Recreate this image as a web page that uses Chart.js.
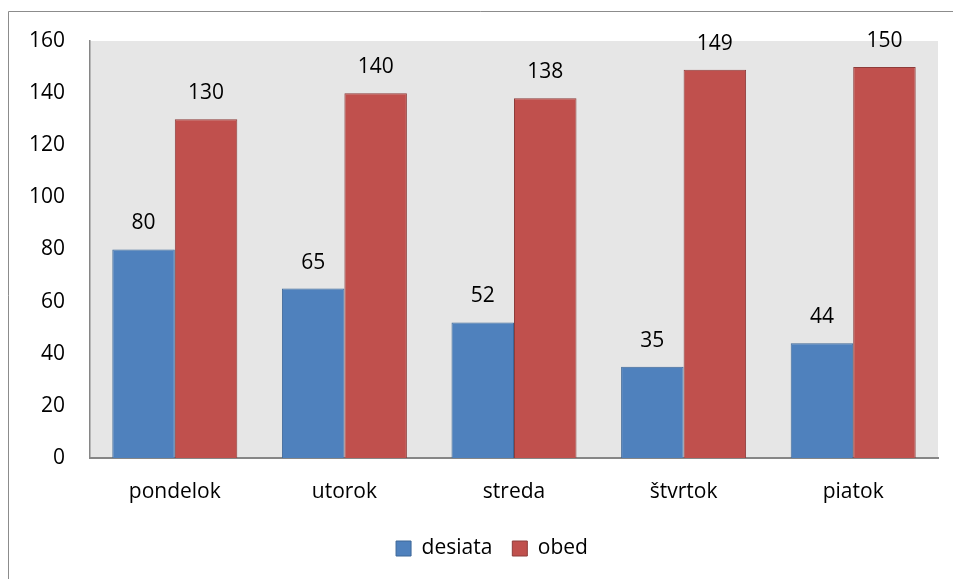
<!DOCTYPE html>
<html>
<head>
<meta charset="utf-8">
<script src="https://cdn.jsdelivr.net/npm/chart.js@4"></script>
<style>
html,body{margin:0;padding:0;background:#fff;}
#wrap{width:953px;height:579px;position:relative;}
</style>
</head>
<body>
<div id="wrap"><canvas id="c" width="953" height="579"></canvas></div>
<script>
const categories = ['pondelok', 'utorok', 'streda', 'štvrtok', 'piatok'];
const desiata = [80, 65, 52, 35, 44];
const obed = [130, 140, 138, 149, 150];
const seriesNames = ['desiata', 'obed'];
const yTicks = [0, 20, 40, 60, 80, 100, 120, 140, 160];

const FONT = '"Open Sans", Lato, sans-serif';
const FS = 21;

const frame = {
  id: 'frame',
  afterLayout(chart) {
    if (chart.legend) { chart.legend.left += 23; chart.legend.right += 23; }
  },
  beforeDraw(chart) {
    const ctx = chart.ctx, a = chart.chartArea;
    ctx.save();
    ctx.fillStyle = '#fff';
    ctx.fillRect(0, 0, chart.width, chart.height);
    ctx.fillStyle = '#e6e6e6';
    ctx.fillRect(a.left, a.top, a.right - a.left, a.bottom - a.top);
    ctx.strokeStyle = '#8c8c8c';
    ctx.lineWidth = 1;
    ctx.beginPath();
    ctx.moveTo(8.5, chart.height);
    ctx.lineTo(8.5, 11.5);
    ctx.lineTo(chart.width, 11.5);
    ctx.stroke();
    ctx.restore();
  }
};

const dataLabels = {
  id: 'dataLabels',
  afterDatasetsDraw(chart) {
    const ctx = chart.ctx;
    ctx.save();
    ctx.font = FS + 'px ' + FONT;
    ctx.fillStyle = '#000';
    ctx.textAlign = 'center';
    ctx.textBaseline = 'middle';
    chart.data.datasets.forEach((ds, i) => {
      chart.getDatasetMeta(i).data.forEach((bar, j) => {
        ctx.fillText(String(ds.data[j]), bar.x, bar.y - 26);
      });
    });
    ctx.restore();
  }
};

new Chart(document.getElementById('c'), {
  type: 'bar',
  data: {
    labels: categories,
    datasets: [
      { label: seriesNames[0], data: desiata, backgroundColor: '#4f81bd', borderColor: '#3d6797', borderWidth: 1 },
      { label: seriesNames[1], data: obed, backgroundColor: '#c0504d', borderColor: '#8e3c3a', borderWidth: 1 }
    ]
  },
  options: {
    responsive: false,
    animation: false,
    devicePixelRatio: 1,
    layout: { padding: { left: 0, top: 41, right: 15, bottom: 10 } },
    datasets: { bar: { categoryPercentage: 0.737, barPercentage: 1 } },
    scales: {
      x: {
        grid: { display: false, drawTicks: false },
        border: { display: true, color: '#868686', width: 2 },
        ticks: { font: { family: FONT, size: FS }, color: '#000', padding: 21 },
        afterFit(s) { s.height = 60; }
      },
      y: {
        min: 0, max: 160,
        afterBuildTicks(s) { s.ticks = yTicks.map(v => ({ value: v })); },
        grid: { display: false, drawTicks: false },
        border: { display: true, color: '#868686', width: 1.5 },
        ticks: { font: { family: FONT, size: FS }, color: '#000', padding: 25 },
        afterFit(s) { s.width = 90; }
      }
    },
    plugins: {
      legend: {
        position: 'bottom',
        labels: { font: { family: FONT, size: FS }, color: '#000', boxWidth: 15, boxHeight: 15, padding: 20 }
      },
      tooltip: { enabled: false }
    }
  },
  plugins: [frame, dataLabels]
});
</script>
</body>
</html>
